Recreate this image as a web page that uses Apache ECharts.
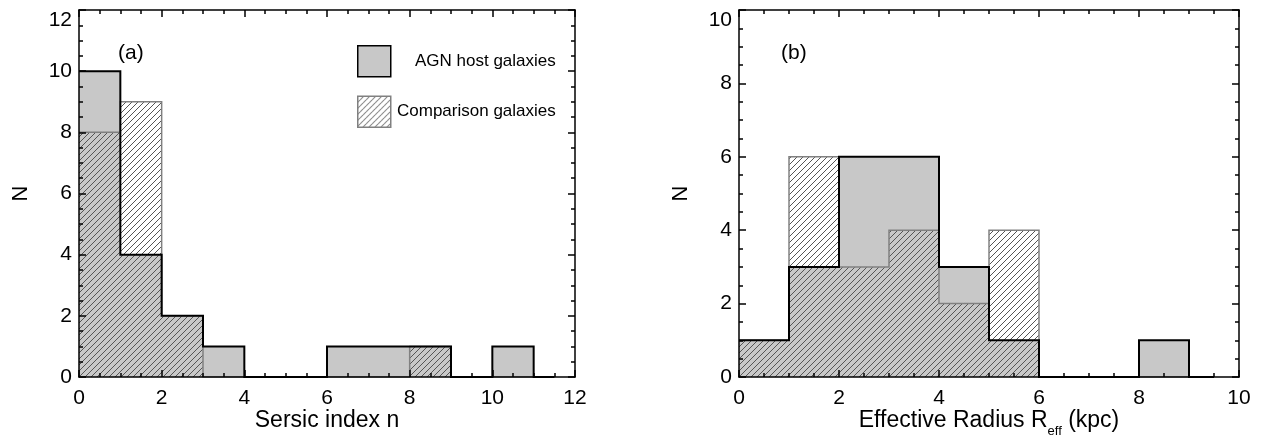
<!DOCTYPE html>
<html>
<head>
<meta charset="utf-8">
<script src="https://cdn.jsdelivr.net/npm/echarts@6/dist/echarts.min.js"></script>
<style>
html, body { margin: 0; padding: 0; background: #fff; }
#main { width: 1262px; height: 435px; }
</style>
</head>
<body>
<div id="main"></div>
<script>
// panel (a): Sersic index histogram, bins of width 1
var edgesA = [0, 1, 2, 3, 4, 5, 6, 7, 8, 9, 10, 11];
var agnA   = [10, 4, 2, 1, 0, 0, 1, 1, 1, 0, 1];
var compA  = [8, 9, 2, 0, 0, 0, 0, 0, 1, 0, 0];
var endA   = 11.5;
var maxXA = 12, maxYA = 12;

// panel (b): effective radius histogram
var edgesB = [0, 1, 2, 3, 4, 5, 6, 7, 8, 9];
var agnB   = [1, 3, 6, 6, 3, 1, 0, 0, 1];
var compB  = [1, 6, 3, 4, 2, 4, 0, 0, 0];
var endB   = 9.5;
var maxXB = 10, maxYB = 10;

var FONT = 'Liberation Sans';
var GRAY = '#c8c8c8';

var chart = echarts.init(document.getElementById('main'));

function makeHatch(size, color) {
    var c = document.createElement('canvas');
    c.width = c.height = size;
    var ctx = c.getContext('2d');
    ctx.strokeStyle = color;
    ctx.lineWidth = 1;
    ctx.beginPath();
    ctx.moveTo(0, size); ctx.lineTo(size, 0);
    ctx.moveTo(-size / 2, size / 2); ctx.lineTo(size / 2, -size / 2);
    ctx.moveTo(size / 2, size * 1.5); ctx.lineTo(size * 1.5, size / 2);
    ctx.stroke();
    return c;
}
var hatch = { image: makeHatch(6, '#555'), repeat: 'repeat' };

function bins(edges, vals) {
    var out = [];
    for (var i = 0; i < vals.length; i++) out.push([edges[i], edges[i + 1], vals[i]]);
    return out;
}

function stepLine(edges, vals, end) {
    var pts = [];
    for (var i = 0; i < vals.length; i++) {
        pts.push([edges[i], vals[i]], [edges[i + 1], vals[i]]);
    }
    pts.push([edges[vals.length], 0], [end, 0]);
    return pts;
}

function barItem(fill) {
    return function (params, api) {
        var y = api.value(2);
        if (!y) return null;
        var p0 = api.coord([api.value(0), y]);
        var p1 = api.coord([api.value(1), 0]);
        var x0 = Math.round(p0[0]), y0 = Math.round(p0[1]);
        var x1 = Math.round(p1[0]), y1 = Math.round(p1[1]);
        return {
            type: 'rect',
            shape: { x: x0, y: y0, width: x1 - x0, height: y1 - y0 },
            style: { fill: fill }
        };
    };
}

function xAxis(grid, pos, max, name) {
    var main = pos === 'bottom';
    return {
        type: 'value', gridIndex: grid, position: pos, min: 0, max: max, interval: 2, z: 10,
        axisLine: { onZero: false, lineStyle: { color: '#000', width: 1.5 } },
        axisTick: { inside: true, length: 7, lineStyle: { color: '#000', width: 1.5 } },
        minorTick: { show: true, splitNumber: 4, length: 4, lineStyle: { color: '#000', width: 1.5 } },
        splitLine: { show: false },
        axisLabel: { show: main, margin: 11, color: '#000', fontFamily: FONT, fontSize: 21 },
        name: main ? name : '',
        nameLocation: 'middle', nameGap: 32, nameMoveOverlap: false,
        nameTextStyle: {
            color: '#000', fontFamily: FONT, fontSize: 23,
            rich: { sub: { fontFamily: FONT, fontSize: 13, color: '#000', verticalAlign: 'bottom', padding: [0, 0, -6, 0] } }
        }
    };
}

function yAxis(grid, pos, max, gap) {
    var main = pos === 'left';
    return {
        type: 'value', gridIndex: grid, position: pos, min: 0, max: max, interval: 2, z: 10,
        axisLine: { onZero: false, lineStyle: { color: '#000', width: 1.5 } },
        axisTick: { inside: true, length: 7, lineStyle: { color: '#000', width: 1.5 } },
        minorTick: { show: true, splitNumber: 4, length: 4, lineStyle: { color: '#000', width: 1.5 } },
        splitLine: { show: false },
        axisLabel: {
            show: main, margin: 7, color: '#000', fontFamily: FONT, fontSize: 21,
            verticalAlignMaxLabel: 'top'
        },
        name: main ? 'N' : '',
        nameLocation: 'middle', nameGap: gap, nameRotate: 90, nameMoveOverlap: false,
        nameTextStyle: { color: '#000', fontFamily: FONT, fontSize: 22 }
    };
}

function fillSeries(name, xi, data, fill, z) {
    return {
        name: name, type: 'custom', xAxisIndex: xi, yAxisIndex: xi, z: z,
        renderItem: barItem(fill), encode: { x: [0, 1], y: 2 }, data: data, silent: true
    };
}

function outline(name, xi, data, color, width, z) {
    return {
        name: name, type: 'line', xAxisIndex: xi, yAxisIndex: xi, z: z,
        data: data, symbol: 'none', silent: true,
        lineStyle: { color: color, width: width, join: 'miter' }
    };
}

var panelLabel = { fontFamily: FONT, fontSize: 21, fontWeight: 'normal', color: '#000' };

option = {
    animation: false,
    grid: [
        { left: 79, top: 10, width: 496, height: 367, outerBoundsMode: 'none' },
        { left: 739, top: 10, width: 500, height: 367, outerBoundsMode: 'none' }
    ],
    title: [
        { text: '(a)', left: 113, top: 38, textStyle: panelLabel },
        { text: '(b)', left: 776, top: 38, textStyle: panelLabel }
    ],
    legend: {
        orient: 'vertical', left: 352, top: 40, itemWidth: 33, itemHeight: 31, itemGap: 18,
        selectedMode: false,
        formatter: '{t|{name}}',
        textStyle: {
            rich: { t: { width: 160, align: 'right', fontFamily: FONT, fontSize: 17, color: '#000' } }
        },
        data: [
            { name: 'AGN host galaxies', icon: 'rect', itemStyle: { color: GRAY, borderColor: '#000', borderWidth: 1.5 } },
            { name: 'Comparison galaxies', icon: 'rect', itemStyle: { color: hatch, borderColor: '#808080', borderWidth: 1.5 } }
        ]
    },
    xAxis: [
        xAxis(0, 'bottom', maxXA, 'Sersic index n'),
        xAxis(0, 'top', maxXA, ''),
        xAxis(1, 'bottom', maxXB, 'Effective Radius R{sub|eff} (kpc)'),
        xAxis(1, 'top', maxXB, '')
    ],
    yAxis: [
        yAxis(0, 'left', maxYA, 47),
        yAxis(0, 'right', maxYA, 0),
        yAxis(1, 'left', maxYB, 47),
        yAxis(1, 'right', maxYB, 0)
    ],
    series: [
        fillSeries('AGN host galaxies', 0, bins(edgesA, agnA), GRAY, 2),
        fillSeries('Comparison galaxies', 0, bins(edgesA, compA), hatch, 3),
        outline('comparison outline a', 0, stepLine(edgesA, compA, endA), '#808080', 1.5, 4),
        outline('AGN outline a', 0, stepLine(edgesA, agnA, endA), '#000', 2, 5),
        fillSeries('AGN host galaxies', 2, bins(edgesB, agnB), GRAY, 2),
        fillSeries('Comparison galaxies', 2, bins(edgesB, compB), hatch, 3),
        outline('comparison outline b', 2, stepLine(edgesB, compB, endB), '#808080', 1.5, 4),
        outline('AGN outline b', 2, stepLine(edgesB, agnB, endB), '#000', 2, 5)
    ]
};

chart.setOption(option);
</script>
</body>
</html>
